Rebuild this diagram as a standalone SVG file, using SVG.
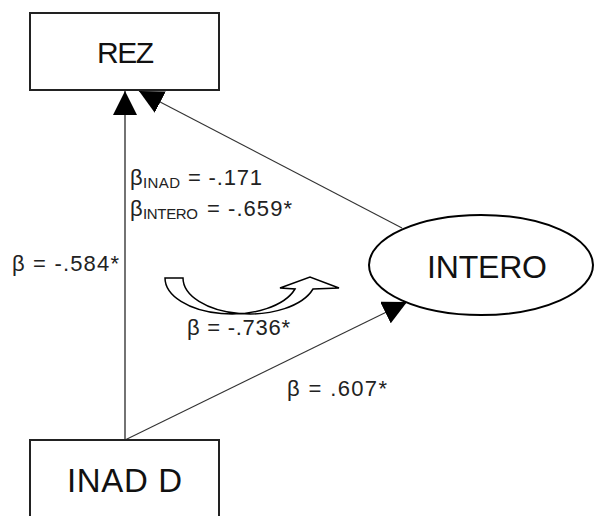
<svg xmlns="http://www.w3.org/2000/svg" width="594" height="516" viewBox="0 0 594 516">
<style>
.box{fill:#fff;stroke:#222;stroke-width:2}
.node{font-family:"Liberation Sans",Arial,sans-serif;fill:#111}
.lbl{font-family:"Liberation Sans",Arial,sans-serif;font-size:22px;fill:#222}
.sub{font-size:15px}
.edge{stroke:#000;stroke-width:1.1;fill:none}
.edge2{stroke:#333;stroke-width:1.1;fill:none}
</style>
<defs>
<marker id="ah" markerUnits="userSpaceOnUse" markerWidth="24" markerHeight="24" viewBox="0 0 22 22" refX="22" refY="11" orient="auto">
<path d="M0,0 L22,11 L0,22 Z" fill="#000"/>
</marker>
</defs>
<rect width="594" height="516" fill="#fff"/>
<g id="connectors">
<line class="edge" x1="125" y1="440" x2="125" y2="91" marker-end="url(#ah)"/>
<line class="edge2" x1="402" y1="228" x2="139" y2="91" marker-end="url(#ah)"/>
<line class="edge2" x1="125" y1="440" x2="407" y2="302" marker-end="url(#ah)"/>
</g>
<g id="REZ">
<rect class="box" x="30" y="13" width="189" height="77"/>
<text class="node" x="125.5" y="63" font-size="30" text-anchor="middle" textLength="57">REZ</text>
</g>
<g id="INTERO">
<ellipse cx="481" cy="265" rx="112" ry="50" fill="#fff" stroke="#000" stroke-width="2"/>
<text class="node" x="487" y="278" font-size="32" text-anchor="middle" textLength="120">INTERO</text>
</g>
<g id="INAD_D">
<rect class="box" x="30" y="440" width="189" height="90"/>
<text class="node" x="124.5" y="492" font-size="33" text-anchor="middle" textLength="115">INAD D</text>
</g>
<g id="curved-arrow">
<path d="M165,278 L183,278 A66.6,36 0 0 0 313,289 L339,288 L310,277 L280,288 L295,289 A66.6,36 0 0 1 165,278 Z" fill="#fff" stroke="#000" stroke-width="1.5" stroke-linejoin="miter"/>
</g>
<g id="labels">
<text class="lbl" x="12" y="271" textLength="107">β = -.584*</text>
<text class="lbl" x="130" y="185">β<tspan class="sub" x="143" y="188" textLength="37">INAD</tspan><tspan x="188" y="185" textLength="74">= -.171</tspan></text>
<text class="lbl" x="130" y="216">β<tspan class="sub" x="143" y="219" textLength="55">INTERO</tspan><tspan x="207" y="216" textLength="85">= -.659*</tspan></text>
<text class="lbl" x="187" y="335" textLength="103">β = -.736*</text>
<text class="lbl" x="287" y="396" textLength="100">β = .607*</text>
</g>
</svg>
